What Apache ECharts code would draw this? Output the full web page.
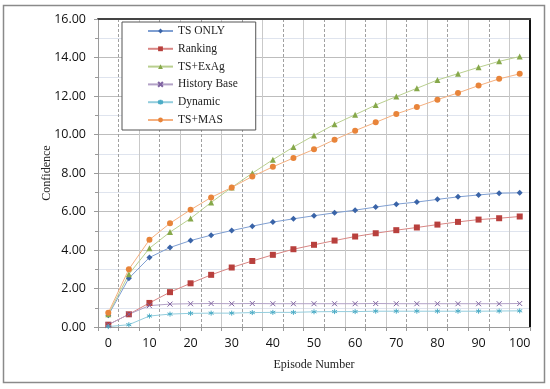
<!DOCTYPE html>
<html>
<head>
<meta charset="utf-8">
<script src="https://cdn.jsdelivr.net/npm/echarts@6/dist/echarts.min.js"></script>
<style>html,body{margin:0;padding:0;background:#fff;}#c{width:550px;height:389px;}</style>
</head>
<body>
<div id="c"></div>
<script>
var episodes = ['0','5','10','15','20','25','30','35','40','45','50','55','60','65','70','75','80','85','90','95','100'];
var tsOnly      = [0.61, 2.53, 3.61, 4.13, 4.49, 4.77, 5.01, 5.24, 5.45, 5.62, 5.78, 5.93, 6.07, 6.23, 6.38, 6.49, 6.63, 6.76, 6.86, 6.95, 6.97];
var ranking     = [0.12, 0.66, 1.25, 1.81, 2.27, 2.71, 3.09, 3.43, 3.75, 4.04, 4.27, 4.49, 4.70, 4.87, 5.03, 5.17, 5.32, 5.46, 5.58, 5.65, 5.74];
var tsExAg      = [0.66, 2.74, 4.09, 4.93, 5.64, 6.47, 7.25, 7.99, 8.69, 9.35, 9.95, 10.53, 11.03, 11.53, 11.97, 12.40, 12.83, 13.16, 13.49, 13.80, 14.05];
var historyBase = [0.12, 0.66, 1.11, 1.19, 1.21, 1.22, 1.21, 1.22, 1.21, 1.21, 1.21, 1.21, 1.21, 1.22, 1.21, 1.21, 1.21, 1.21, 1.21, 1.21, 1.22];
var dynamicVals = [0.02, 0.12, 0.57, 0.67, 0.71, 0.72, 0.72, 0.75, 0.76, 0.76, 0.79, 0.80, 0.80, 0.82, 0.82, 0.82, 0.82, 0.82, 0.82, 0.83, 0.84];
var tsMas       = [0.74, 3.00, 4.53, 5.39, 6.09, 6.73, 7.25, 7.82, 8.32, 8.78, 9.23, 9.73, 10.20, 10.63, 11.07, 11.43, 11.81, 12.16, 12.54, 12.89, 13.15];
var seriesNames = ['TS ONLY','Ranking','TS+ExAg','History Base','Dynamic','TS+MAS'];
var yTicks = {min: 0, max: 16, interval: 2};

var chart = echarts.init(document.getElementById('c'), null, {renderer: 'canvas'});
var serif = 'Liberation Serif';
var sans = 'Open Sans';
function mk(name, data, color, lineColor, symbol, size, extra) {
  var s = {
    name: name, type: 'line', data: data, xAxisIndex: 0, yAxisIndex: 0,
    symbol: symbol, symbolSize: size, showSymbol: true,
    lineStyle: {color: lineColor, width: 1},
    itemStyle: {color: color},
    emphasis: {disabled: true},
    animation: false, z: 5
  };
  if (extra) Object.assign(s.itemStyle, extra);
  return s;
}
var xPath = 'path://M0,0L10,10M10,0L0,10';
var starPath = 'path://M5,0L5,10M0,2.5L10,7.5M0,7.5L10,2.5';
var option = {
  backgroundColor: '#fff',
  animation: false,
  graphic: [{type: 'rect', shape: {x: 3.5, y: 5.5, width: 541, height: 377}, style: {fill: 'none', stroke: '#8a8a8a', lineWidth: 1.5}, z: -1}],
  grid: {left: 98, right: 20, top: 19, bottom: 62, containLabel: false},
  legend: {
    orient: 'vertical', left: 122, top: 22,
    backgroundColor: '#fff', borderColor: '#555', borderWidth: 1,
    padding: [3, 18, 4, 25], itemWidth: 25, itemHeight: 6, itemGap: 5.8,
    textStyle: {fontFamily: serif, fontSize: 11.5, color: '#222', lineHeight: 12},
    data: seriesNames
  },
  xAxis: [{
    type: 'category', data: episodes, boundaryGap: true, position: 'bottom',
    name: 'Episode Number', nameLocation: 'middle', nameGap: 32, nameMoveOverlap: false,
    nameTextStyle: {fontFamily: serif, fontSize: 12, color: '#222'},
    axisLine: {show: true, lineStyle: {color: '#9a9a9a', width: 1}},
    axisTick: {show: true, length: 4, interval: 0, lineStyle: {color: '#9a9a9a'}},
    axisLabel: {interval: 1, fontFamily: sans, fontSize: 12.5, color: '#111', margin: 10},
    splitLine: {show: true, interval: function (i) { return i % 2 === 0; }, lineStyle: {color: '#c9c9c9', width: 1, type: 'solid'}}
  }, {
    type: 'category', data: episodes, boundaryGap: true, position: 'bottom', gridIndex: 0,
    axisLine: {show: false}, axisTick: {show: false}, axisLabel: {show: false},
    splitLine: {show: true, interval: function (i) { return i % 2 === 1; }, lineStyle: {color: '#a0a0a0', width: 1, type: [3, 2]}}
  }, {
    type: 'category', data: episodes, boundaryGap: true, position: 'top', gridIndex: 0,
    axisLine: {show: true, lineStyle: {color: '#444', width: 2}}, axisTick: {show: false}, axisLabel: {show: false},
    splitLine: {show: false}
  }],
  yAxis: [{
    type: 'value', min: yTicks.min, max: yTicks.max, interval: yTicks.interval, position: 'left',
    name: 'Confidence', nameLocation: 'middle', nameGap: 45, nameMoveOverlap: false,
    nameTextStyle: {fontFamily: serif, fontSize: 12, color: '#222'},
    axisLine: {show: true, lineStyle: {color: '#9a9a9a', width: 1}},
    axisTick: {show: true, length: 4, lineStyle: {color: '#9a9a9a'}},
    minorTick: {show: true, splitNumber: 2, length: 3, lineStyle: {color: '#9a9a9a'}},
    axisLabel: {formatter: function (v) { return v.toFixed(2); }, fontFamily: sans, fontSize: 12.5, color: '#111', margin: 12},
    splitLine: {show: true, lineStyle: {color: '#bdbdbd', width: 1.2}},
    minorSplitLine: {show: true, lineStyle: {color: '#dfe4ee', width: 1}}
  }, {
    type: 'value', min: yTicks.min, max: yTicks.max, interval: yTicks.interval, position: 'right',
    axisLine: {show: true, lineStyle: {color: '#111', width: 2}},
    axisTick: {show: false}, axisLabel: {show: false}, splitLine: {show: false}
  }],
  series: [
    mk('TS ONLY', tsOnly, '#3a64a8', '#7f9fd2', 'diamond', 6),
    mk('Ranking', ranking, '#b8403d', '#d98684', 'rect', 6),
    mk('TS+ExAg', tsExAg, '#86a84a', '#b9cf8f', 'triangle', 6),
    mk('History Base', historyBase, '#8064a2', '#b3a2c7', xPath, 5, {borderColor: '#8064a2', borderWidth: 1}),
    mk('Dynamic', dynamicVals, '#4bacc6', '#93cddd', starPath, 5, {borderColor: '#4bacc6', borderWidth: 1}),
    mk('TS+MAS', tsMas, '#e8843a', '#f5b07f', 'circle', 6)
  ]
};
chart.setOption(option);
</script>
</body>
</html>
